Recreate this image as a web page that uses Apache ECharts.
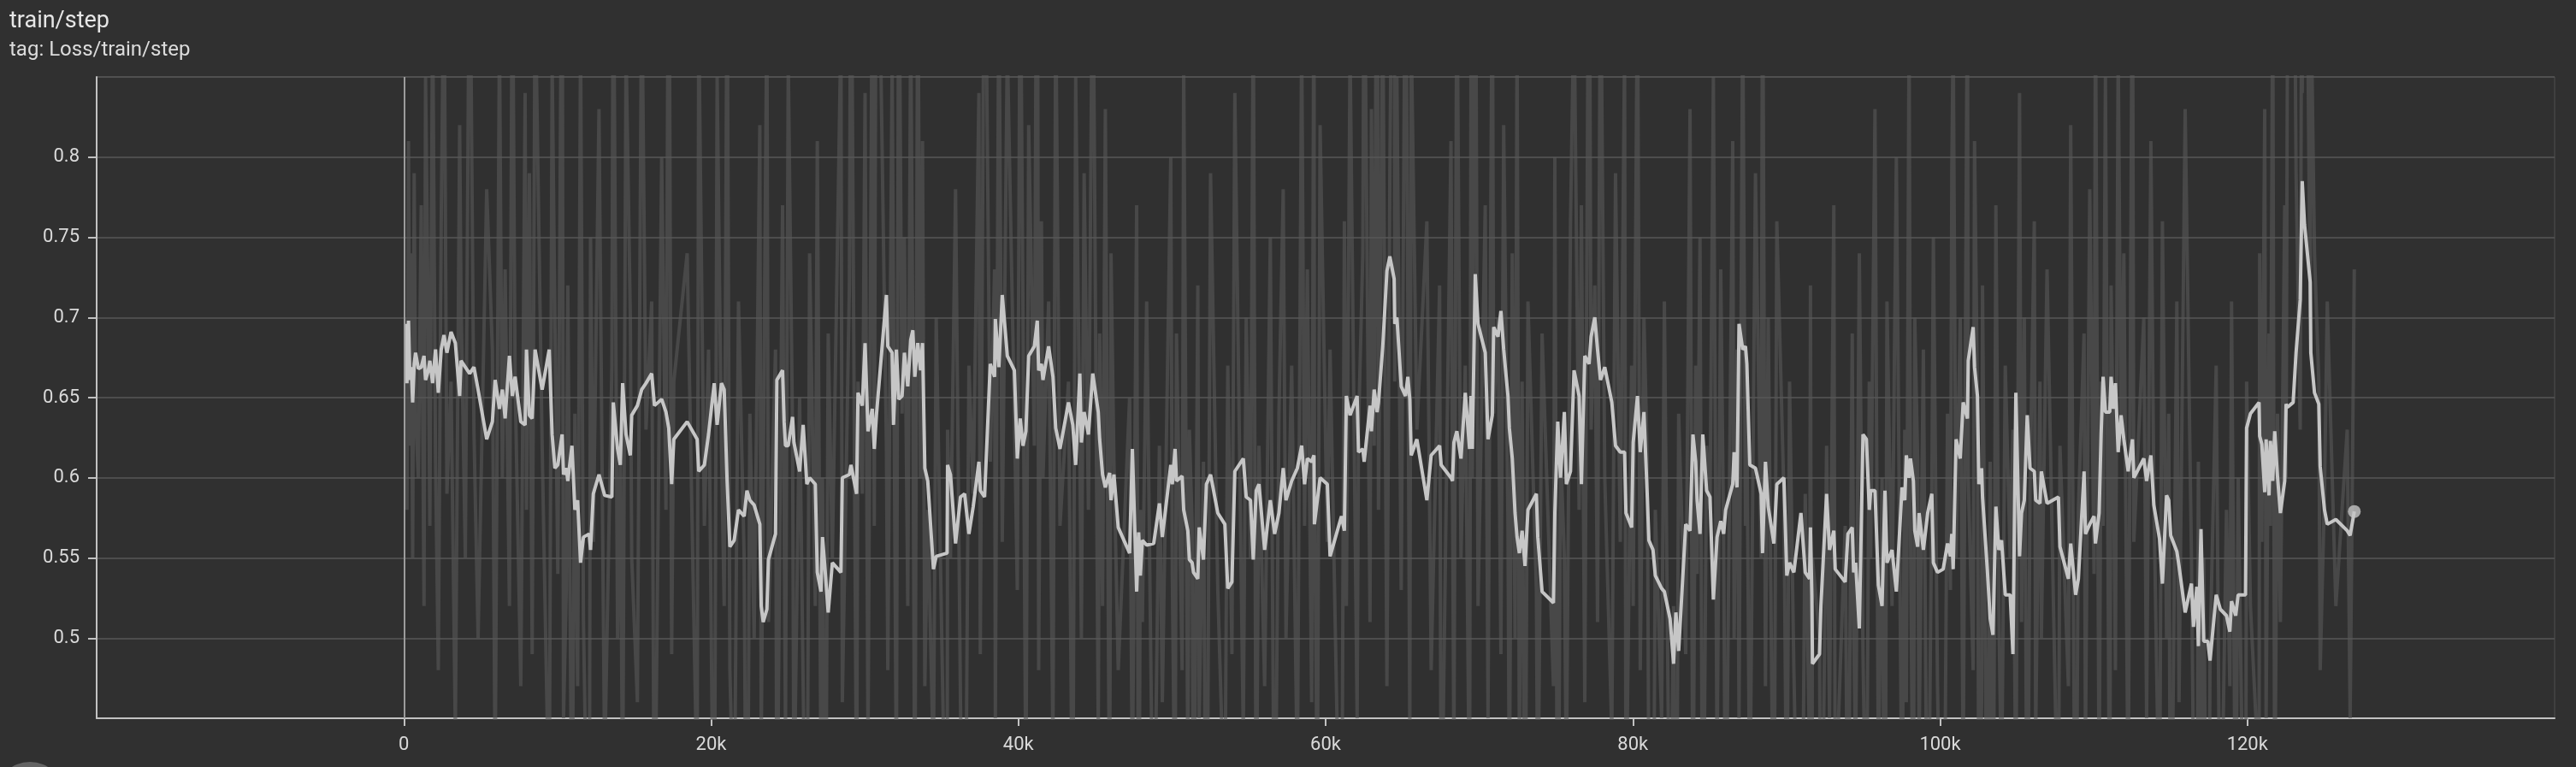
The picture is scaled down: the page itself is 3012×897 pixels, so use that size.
<!DOCTYPE html>
<html>
<head>
<meta charset="utf-8">
<script src="https://cdn.jsdelivr.net/npm/echarts@6/dist/echarts.min.js"></script>
<style>
html,body{margin:0;padding:0;background:#303030;}
#c{width:3012px;height:897px;}
</style>
</head>
<body>
<div id="c"></div>
<script>
// steps in thousands (k)
const stepsK = [
0.11,0.2,0.3,0.39,0.48,0.57,0.67,0.76,0.94,1.13,
1.31,1.41,1.59,1.69,1.87,2.06,2.24,2.43,2.61,2.8,
3.07,3.35,3.63,3.72,4.0,4.28,4.56,4.83,5.39,5.76,
5.94,6.22,6.41,6.59,6.87,7.06,7.24,7.61,7.89,7.98,
8.17,8.35,8.54,9.0,9.46,9.65,9.83,10.02,10.3,10.39,
10.57,10.67,10.94,11.13,11.31,11.5,11.69,12.06,12.15,12.33,
12.7,13.07,13.54,13.63,13.91,14.09,14.24,14.46,14.74,14.83,
15.2,15.48,15.76,16.13,16.31,16.78,17.06,17.24,17.43,17.57,
18.44,19.09,19.19,19.56,19.83,20.2,20.39,20.67,20.85,21.04,
21.22,21.5,21.78,22.15,22.33,22.52,22.8,23.17,23.26,23.39,
23.63,23.73,24.19,24.28,24.65,24.75,24.84,25.02,25.3,25.39,
25.76,25.99,26.23,26.41,26.78,26.91,27.15,27.25,27.43,27.62,
27.89,28.45,28.54,29.0,29.1,29.47,29.56,29.84,30.02,30.21,
30.49,30.62,30.76,31.41,31.5,31.78,31.87,32.06,32.21,32.43,
32.58,32.8,32.99,33.13,33.26,33.45,33.63,33.76,33.91,34.1,
34.47,34.65,35.36,35.39,35.58,35.91,36.23,36.5,36.78,37.06,
37.43,37.52,37.8,38.17,38.45,38.5,38.73,38.95,39.28,39.74,
39.93,40.12,40.3,40.49,40.67,41.04,41.23,41.32,41.5,41.6,
41.97,42.25,42.43,42.71,43.26,43.54,43.73,44.0,44.1,44.28,
44.56,44.84,45.2,45.29,45.48,45.66,45.94,46.03,46.22,46.5,
47.24,47.42,47.7,47.83,47.94,48.07,48.35,48.81,49.18,49.37,
49.92,50.02,50.2,50.29,50.66,50.76,51.03,51.13,51.31,51.4,
51.68,51.77,52.05,52.24,52.51,52.98,53.44,53.63,53.9,54.09,
54.64,54.83,55.11,55.29,55.48,55.66,56.03,56.4,56.68,56.96,
57.24,57.42,57.79,58.16,58.44,58.63,58.81,59.09,59.24,59.27,
59.46,59.64,60.11,60.29,61.03,61.22,61.35,61.59,62.05,62.14,
62.42,62.51,62.89,62.98,63.16,63.35,63.44,63.72,63.99,64.18,
64.46,64.5,64.64,64.92,65.2,65.35,65.48,65.57,65.94,66.59,
66.87,67.42,67.52,68.16,68.26,68.35,68.54,68.81,69.09,69.37,
69.46,69.55,69.74,69.92,70.39,70.57,70.85,70.94,71.22,71.41,
71.59,71.87,71.96,72.15,72.33,72.46,72.61,72.79,72.98,73.17,
73.72,73.81,74.09,74.83,74.92,75.11,75.29,75.54,75.67,75.94,
76.17,76.5,76.65,76.87,77.15,77.28,77.52,77.7,77.89,78.17,
78.63,78.87,79.18,79.46,79.55,79.92,80.02,80.3,80.48,80.72,
80.94,81.04,81.31,81.46,81.87,82.05,82.42,82.65,82.8,82.98,
83.44,83.72,83.91,84.09,84.18,84.37,84.55,84.8,85.02,85.24,
85.48,85.72,85.91,86.04,86.5,86.59,86.78,86.91,87.15,87.33,
87.42,87.61,87.98,88.35,88.44,88.63,88.81,89.18,89.37,89.83,
90.02,90.2,90.48,90.94,91.22,91.5,91.56,91.65,91.69,92.15,
92.24,92.61,92.8,93.08,93.17,93.82,94.0,94.28,94.37,94.5,
94.74,94.98,95.2,95.39,95.48,95.76,95.98,96.22,96.41,96.54,
96.87,97.15,97.52,97.7,97.8,97.98,98.07,98.26,98.35,98.54,
98.63,98.91,99.19,99.46,99.56,99.83,100.2,100.48,100.67,100.76,
100.85,101.04,101.31,101.5,101.78,101.83,102.15,102.24,102.43,102.52,
102.7,102.76,103.07,103.26,103.44,103.63,103.82,104.0,104.24,104.56,
104.74,104.93,105.17,105.3,105.48,105.67,105.85,106.13,106.22,106.5,
106.59,106.96,107.7,107.8,108.35,108.5,108.82,109.0,109.37,109.46,
109.74,110.02,110.11,110.35,110.48,110.61,110.76,111.04,111.13,111.28,
111.41,111.59,111.78,111.96,112.24,112.52,112.61,113.26,113.44,113.72,
113.91,114.28,114.47,114.74,114.88,115.01,115.41,115.55,115.95,116.36,
116.49,116.71,116.81,116.98,117.16,117.43,117.57,117.97,118.24,118.64,
118.86,118.97,119.24,119.4,119.88,119.95,120.2,120.76,120.8,120.94,
121.13,121.22,121.41,121.5,121.65,121.78,121.96,122.15,122.43,122.52,
122.61,122.98,123.17,123.44,123.54,123.57,123.72,124.09,124.13,124.37,
124.65,124.74,125.02,125.2,125.76,126.5,126.69,126.96
];

const smoothedLoss = [
0.696,0.659,0.698,0.661,0.669,0.647,0.671,0.678,0.668,0.669,
0.676,0.661,0.667,0.673,0.659,0.680,0.653,0.680,0.689,0.678,
0.691,0.684,0.651,0.673,0.669,0.665,0.669,0.655,0.624,0.635,
0.661,0.643,0.655,0.637,0.676,0.651,0.663,0.635,0.633,0.680,
0.639,0.637,0.680,0.655,0.680,0.627,0.606,0.608,0.627,0.602,
0.606,0.598,0.620,0.580,0.586,0.547,0.563,0.565,0.555,0.590,
0.602,0.589,0.588,0.647,0.618,0.608,0.659,0.627,0.614,0.639,
0.645,0.655,0.659,0.665,0.645,0.649,0.641,0.631,0.596,0.624,
0.635,0.624,0.604,0.608,0.627,0.659,0.633,0.659,0.655,0.598,
0.557,0.561,0.580,0.576,0.592,0.586,0.583,0.571,0.520,0.510,
0.518,0.549,0.565,0.661,0.667,0.635,0.620,0.620,0.638,0.622,
0.604,0.633,0.596,0.600,0.596,0.541,0.529,0.563,0.541,0.516,
0.547,0.541,0.600,0.602,0.608,0.590,0.653,0.645,0.684,0.629,
0.643,0.618,0.639,0.714,0.682,0.678,0.633,0.680,0.649,0.651,
0.678,0.657,0.686,0.692,0.663,0.684,0.667,0.684,0.606,0.598,
0.543,0.551,0.553,0.608,0.602,0.559,0.588,0.590,0.565,0.582,
0.610,0.592,0.588,0.671,0.663,0.699,0.669,0.714,0.676,0.667,
0.612,0.637,0.620,0.629,0.676,0.682,0.698,0.667,0.671,0.661,
0.682,0.663,0.631,0.618,0.647,0.633,0.608,0.665,0.622,0.641,
0.627,0.665,0.641,0.624,0.602,0.594,0.603,0.586,0.602,0.569,
0.553,0.618,0.529,0.566,0.539,0.561,0.558,0.559,0.584,0.563,
0.608,0.596,0.618,0.598,0.601,0.580,0.567,0.549,0.547,0.541,
0.537,0.569,0.549,0.596,0.602,0.578,0.571,0.531,0.535,0.604,
0.612,0.588,0.586,0.549,0.592,0.596,0.555,0.586,0.565,0.578,
0.606,0.586,0.598,0.606,0.620,0.596,0.612,0.610,0.614,0.571,
0.586,0.600,0.596,0.551,0.576,0.567,0.651,0.639,0.651,0.616,
0.618,0.610,0.645,0.629,0.655,0.641,0.647,0.682,0.729,0.738,
0.724,0.696,0.700,0.657,0.651,0.663,0.649,0.614,0.624,0.586,
0.614,0.620,0.608,0.600,0.598,0.622,0.629,0.612,0.653,0.618,
0.651,0.618,0.727,0.696,0.678,0.624,0.639,0.694,0.688,0.704,
0.680,0.651,0.631,0.612,0.578,0.563,0.553,0.567,0.545,0.580,
0.590,0.563,0.529,0.522,0.578,0.635,0.600,0.641,0.596,0.604,
0.667,0.651,0.596,0.676,0.671,0.688,0.700,0.680,0.661,0.669,
0.647,0.620,0.616,0.616,0.578,0.569,0.622,0.651,0.616,0.641,
0.588,0.561,0.555,0.539,0.531,0.529,0.512,0.484,0.516,0.492,
0.571,0.567,0.627,0.610,0.586,0.565,0.627,0.592,0.588,0.524,
0.563,0.573,0.565,0.580,0.596,0.616,0.594,0.696,0.680,0.682,
0.671,0.608,0.606,0.590,0.553,0.610,0.582,0.559,0.596,0.600,
0.539,0.547,0.541,0.578,0.541,0.537,0.569,0.527,0.484,0.490,
0.520,0.590,0.555,0.567,0.543,0.535,0.565,0.569,0.541,0.547,
0.506,0.627,0.624,0.580,0.592,0.592,0.533,0.520,0.592,0.547,
0.555,0.529,0.594,0.586,0.614,0.600,0.612,0.598,0.567,0.557,
0.578,0.555,0.578,0.590,0.547,0.541,0.543,0.559,0.551,0.565,
0.543,0.624,0.612,0.647,0.637,0.673,0.694,0.669,0.651,0.596,
0.606,0.588,0.543,0.512,0.502,0.582,0.555,0.561,0.527,0.527,
0.490,0.653,0.551,0.578,0.586,0.639,0.606,0.604,0.586,0.584,
0.604,0.584,0.588,0.557,0.537,0.559,0.527,0.537,0.604,0.565,
0.571,0.576,0.559,0.578,0.627,0.663,0.641,0.641,0.663,0.643,
0.659,0.616,0.639,0.624,0.604,0.624,0.600,0.612,0.598,0.614,
0.583,0.562,0.534,0.589,0.586,0.564,0.554,0.545,0.516,0.534,
0.507,0.532,0.495,0.568,0.498,0.498,0.486,0.527,0.518,0.514,
0.504,0.523,0.514,0.527,0.527,0.631,0.640,0.647,0.626,0.621,
0.591,0.624,0.589,0.623,0.598,0.629,0.601,0.578,0.598,0.646,
0.644,0.647,0.678,0.711,0.711,0.785,0.758,0.722,0.678,0.653,
0.646,0.607,0.580,0.571,0.574,0.567,0.564,0.579
];

const rawLoss = [
0.70,0.58,0.81,0.62,0.74,0.55,0.79,0.64,0.60,0.77,
0.52,0.85,0.69,0.57,0.90,0.61,0.48,0.76,0.93,0.59,
0.66,0.44,0.82,0.71,0.55,0.97,0.63,0.50,0.78,0.68,
0.41,0.88,0.60,0.73,0.52,0.95,0.66,0.47,0.84,0.58,
0.79,0.49,0.91,0.62,0.38,0.86,0.70,0.54,0.99,0.45,
0.53,0.72,0.36,0.64,0.47,0.88,0.51,0.29,0.75,0.56,
0.83,0.42,0.67,0.96,0.50,0.61,0.39,0.87,0.70,0.55,
0.46,0.92,0.63,0.71,0.34,0.80,0.58,1.02,0.49,0.66,
0.74,0.40,0.89,0.57,0.68,0.31,0.85,0.62,0.52,0.94,
0.48,0.37,0.71,0.55,0.26,0.64,0.50,0.82,0.43,0.60,
0.90,0.51,0.68,0.35,0.77,0.58,0.44,0.86,0.63,0.39,
0.65,0.47,0.30,0.74,0.52,0.81,0.41,0.60,0.28,0.69,
0.55,0.88,0.46,0.72,0.99,0.38,0.66,0.59,0.84,0.43,
0.93,0.57,1.05,0.62,0.48,0.86,0.71,0.40,0.97,0.64,
0.75,0.52,0.89,0.68,0.36,0.94,0.60,0.81,0.47,0.58,
0.42,0.70,0.31,0.63,0.55,0.78,0.46,0.27,0.67,0.59,
0.84,0.49,1.00,0.61,0.73,0.45,0.92,0.56,0.87,0.64,
0.53,0.95,0.70,0.39,0.82,0.62,1.08,0.48,0.76,0.60,
0.71,0.43,0.90,0.57,0.66,0.35,0.85,0.62,0.50,0.79,
0.58,0.96,0.44,0.69,0.52,0.83,0.37,0.74,0.61,0.48,
0.65,0.40,0.77,0.29,0.58,0.51,0.71,0.33,0.62,0.46,
0.80,0.54,0.37,0.69,0.48,0.86,0.42,0.63,0.57,0.31,
0.72,0.45,0.61,0.26,0.79,0.53,0.38,0.67,0.49,0.84,
0.44,0.70,0.55,0.91,0.36,0.62,0.47,0.75,0.32,0.64,
0.78,0.50,0.67,0.41,0.88,0.57,0.73,0.46,0.95,0.60,
0.39,0.82,0.56,0.68,0.30,0.76,0.52,0.87,0.45,0.63,
0.74,0.96,0.51,0.83,0.62,1.04,0.58,0.90,0.47,0.79,
1.10,0.66,0.85,0.53,0.97,0.71,0.44,0.88,0.63,0.76,
0.48,0.72,0.35,0.81,0.59,0.42,0.93,0.55,0.67,0.38,
0.86,0.60,1.01,0.52,0.77,0.45,0.94,0.64,0.70,0.49,
0.82,0.57,0.39,0.74,0.50,0.88,0.43,0.66,0.31,0.71,
0.53,0.37,0.69,0.47,0.80,0.28,0.62,0.55,0.41,0.76,
0.90,0.58,0.77,0.46,1.03,0.63,0.72,0.51,0.95,0.60,
0.44,0.79,0.56,0.87,0.38,0.67,0.52,0.92,0.48,0.70,
0.61,0.40,0.27,0.58,0.45,0.71,0.33,0.52,0.22,0.64,
0.49,0.83,0.36,0.67,0.54,0.75,0.30,0.62,0.58,0.85,
0.42,0.73,0.56,0.34,0.81,0.50,0.68,0.45,0.90,0.57,
0.64,0.38,0.79,0.55,0.96,0.47,0.70,0.33,0.76,0.59,
0.36,0.66,0.48,0.25,0.59,0.43,0.72,0.31,0.55,0.50,
0.28,0.62,0.45,0.77,0.39,0.57,0.33,0.69,0.51,0.42,
0.74,0.49,0.35,0.66,0.55,0.83,0.41,0.60,0.29,0.71,
0.52,0.80,0.38,0.63,0.46,0.89,0.57,0.34,0.70,0.61,
0.43,0.68,0.31,0.59,0.75,0.47,0.26,0.64,0.53,0.79,
0.88,0.55,0.70,0.41,0.93,0.60,0.48,0.81,0.65,0.37,
0.46,0.72,0.34,0.61,0.28,0.77,0.52,0.40,0.67,0.55,
0.63,0.39,0.84,0.51,0.70,0.32,0.59,0.76,0.44,0.66,
0.50,0.73,0.36,0.62,0.47,0.82,0.29,0.58,0.69,0.43,
0.78,0.54,0.91,0.40,0.66,0.57,0.85,0.35,0.72,0.61,
0.48,0.87,0.62,0.74,0.39,0.96,0.56,0.70,0.45,0.81,
0.59,0.37,0.76,0.50,0.64,0.30,0.71,0.46,0.83,0.55,
0.42,0.26,0.61,0.38,0.55,0.20,0.49,0.67,0.33,0.58,
0.47,0.71,0.35,0.60,0.28,0.66,0.52,0.41,0.74,0.56,
0.83,0.45,0.69,0.57,0.92,0.38,0.64,0.51,0.77,0.60,
0.88,1.06,0.79,0.63,0.95,0.84,1.12,0.70,0.91,0.74,
0.66,0.48,0.59,0.71,0.52,0.63,0.45,0.73
];

const xTicksK = [-20, 0, 20, 40, 60, 80, 100, 120, 140];
const yTicks = [0.45, 0.5, 0.55, 0.6, 0.65, 0.7, 0.75, 0.8, 0.85];

const titleText = 'train/step';
const tagText = 'tag: Loss/train/step';

function pairs(xs, ys) {
  const n = Math.min(xs.length, ys.length);
  const out = [];
  for (let i = 0; i < n; i++) out.push([xs[i], ys[i]]);
  return out;
}
const rawData = pairs(stepsK, rawLoss);
const smoothData = pairs(stepsK, smoothedLoss);
const lastPoint = smoothData[smoothData.length - 1];

const chart = echarts.init(document.getElementById('c'), null, {renderer: 'canvas'});
const labelColor = '#dadada';
const axisColor = '#c2c2c2';
chart.setOption({
  backgroundColor: '#303030',
  animation: false,
  textStyle: {fontFamily: 'Roboto'},
  graphic: [
    {type: 'text', left: 11, top: 12, style: {text: titleText, font: '27px Roboto', fill: '#e6e6e6'}},
    {type: 'text', left: 11, top: 47, style: {text: tagText, font: '24px Roboto', fill: '#dcdcdc'}},
    {type: 'circle', shape: {cx: 35, cy: 931, r: 40}, style: {fill: '#636363'}}
  ],
  grid: {left: 113, right: 25, top: 90, bottom: 57, show: true, borderColor: '#4e4e4e', borderWidth: 1, backgroundColor: 'transparent'},
  xAxis: {
    type: 'value',
    min: xTicksK[0], max: xTicksK[xTicksK.length - 1], interval: xTicksK[1] - xTicksK[0],
    axisLine: {show: true, onZero: false, lineStyle: {color: axisColor, width: 2}},
    axisTick: {show: true, length: 9, lineStyle: {color: axisColor, width: 2}},
    axisLabel: {
      color: labelColor, fontSize: 22, fontFamily: 'Roboto', margin: 20,
      showMinLabel: false, showMaxLabel: false,
      formatter: v => v === 0 ? '0' : v + 'k'
    },
    splitLine: {show: false}
  },
  yAxis: {
    type: 'value',
    min: yTicks[0], max: yTicks[yTicks.length - 1], interval: 0.05,
    axisLine: {show: true, onZero: false, lineStyle: {color: axisColor, width: 2}},
    axisTick: {show: true, length: 10, lineStyle: {color: axisColor, width: 2}},
    axisLabel: {
      color: labelColor, fontSize: 22, fontFamily: 'Roboto', margin: 20,
      showMinLabel: false, showMaxLabel: false
    },
    splitLine: {show: true, lineStyle: {color: '#575757', width: 1.5}}
  },
  series: [
    {
      name: 'raw', type: 'line', data: rawData, showSymbol: false, silent: true,
      clip: true, z: 1,
      lineStyle: {color: 'rgba(88,88,88,0.6)', width: 4}
    },
    {
      name: 'smoothed', type: 'line', data: smoothData, showSymbol: false, silent: true,
      clip: true, z: 3,
      lineStyle: {color: '#c6c6c6', width: 4},
      markLine: {
        silent: true, symbol: ['none', 'none'], label: {show: false},
        lineStyle: {color: '#9c9c9c', width: 2, type: 'solid'},
        data: [{xAxis: 0}]
      }
    },
    {
      name: 'last', type: 'scatter', data: [lastPoint], symbol: 'circle', symbolSize: 15,
      silent: true, z: 4, itemStyle: {color: '#c6c6c6'}
    }
  ]
});
</script>
</body>
</html>
